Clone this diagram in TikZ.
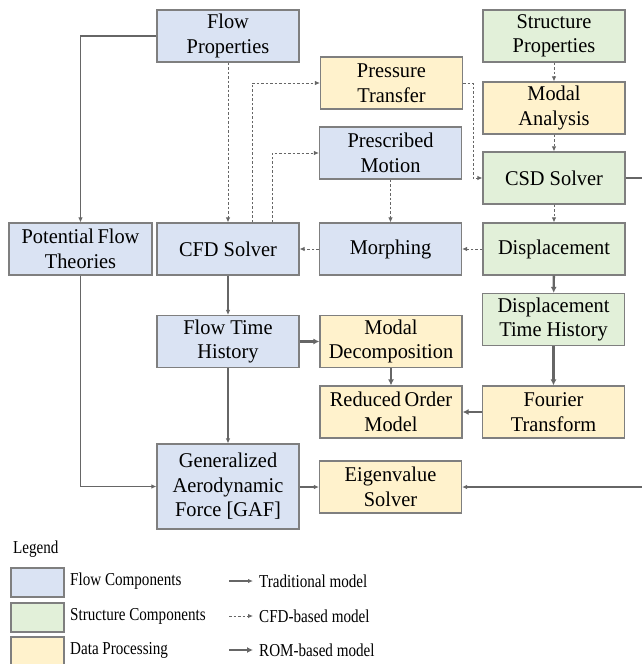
\documentclass[tikz,border=0pt]{standalone}
\usepackage{fontspec}
\setmainfont{Liberation Serif}
\newfontfamily\blockfont{Liberation Serif}[FakeStretch=0.97]
\newfontfamily\legfont{Liberation Serif}[FakeStretch=0.83]
\usepackage{xcolor}
\usetikzlibrary{arrows.meta, positioning, calc}

\definecolor{flowblue}{HTML}{DAE3F3}
\definecolor{structgreen}{HTML}{E2F0D9}
\definecolor{dataorange}{HTML}{FFF2CC}
\definecolor{boxgray}{HTML}{7F7F7F}
\definecolor{linegray}{HTML}{666666}

\begin{document}
\begin{tikzpicture}[x=1pt, y=-1pt,
        block/.style={rectangle, draw=boxgray, line width=1.2pt, minimum height=52pt, minimum width=142pt, inner sep=0pt, align=center, font=\blockfont\fontsize{21}{24.5}\selectfont, fill=#1},
        trad/.style={-{Latex[length=5pt, width=4.5pt]}, draw=linegray, line width=1.1pt},
        cfdarrow/.style={-{Latex[length=5pt, width=4.5pt]}, draw=linegray, line width=0.9pt, dash pattern=on 2.5pt off 2pt},
        romarrow/.style={-{Latex[length=6pt, width=6pt]}, draw=linegray, line width=2.4pt},
        legbox/.style={rectangle, draw=boxgray, line width=1.2pt, minimum height=29pt, minimum width=53pt, inner sep=0pt, fill=#1},
        legtext/.style={anchor=west, font=\legfont\fontsize{18.2}{20}\selectfont, inner sep=0pt}
    ]
        \useasboundingbox (0,0) rectangle (641,664);

        % Flow side
        \node[block=flowblue] (flowprop) at (228, 36) {Flow\\Properties};
        \node[block=flowblue, minimum width=143pt] (potential) at (80.5, 249) {Potential\,Flow\\Theories};
        \node[block=flowblue] (cfd) at (228, 249) {CFD Solver};
        \node[block=flowblue] (flowth) at (228, 341.5) {Flow Time\\History};
        \node[block=flowblue, minimum height=85pt] (gaf) at (228, 486.5) {Generalized\\Aerodynamic\\Force [GAF]};
        \node[block=flowblue] (prescribed) at (390.5, 153) {Prescribed\\Motion};
        \node[block=flowblue] (morph) at (390.5, 249) {Morphing};

        % Structure side
        \node[block=structgreen] (structprop) at (554, 36) {Structure\\Properties};
        \node[block=structgreen] (csd) at (554, 178) {CSD Solver};
        \node[block=structgreen] (disp) at (554, 249) {Displacement};
        \node[block=structgreen] (dth) at (553.5, 319.5) {Displacement\\Time History};

        % Data processing
        \node[block=dataorange] (pressure) at (391.5, 83) {Pressure\\Transfer};
        \node[block=dataorange] (modal) at (554, 108) {Modal\\Analysis};
        \node[block=dataorange] (modaldec) at (391, 341.5) {Modal\\Decomposition};
        \node[block=dataorange] (rom) at (391, 412) {Reduced\,Order\\Model};
        \node[block=dataorange] (fourier) at (553.5, 412) {Fourier\\Transform};
        \node[block=dataorange] (eigen) at (390.5, 487) {Eigenvalue\\Solver};

        % Traditional model
        \draw[trad] (flowprop.west) -| (potential.north);
        \draw[trad] (cfd) -- (flowth);
        \draw[trad] (flowth) -- (gaf);
        \draw[trad] (potential.south) |- (gaf.west);
        \draw[trad] (gaf.east |- eigen.west) -- (eigen.west);
        \draw[trad] (csd.east) -- ++(30, 0) |- (eigen.east);

        % CFD-based model
        \draw[cfdarrow] (flowprop) -- (cfd);
        \draw[cfdarrow] ([xshift=24pt]cfd.north) |- (pressure.west);
        \draw[cfdarrow] ([xshift=44pt]cfd.north) |- (prescribed.west);
        \draw[cfdarrow] (prescribed) -- (morph);
        \draw[cfdarrow] (morph) -- (cfd);
        \draw[cfdarrow] (disp) -- (morph);
        \draw[cfdarrow] (pressure.east) -- ++(10, 0) |- (csd.west);
        \draw[cfdarrow] (structprop) -- (modal);
        \draw[cfdarrow] (modal) -- (csd);
        \draw[cfdarrow] (csd) -- (disp);

        % ROM-based model
        \draw[romarrow] (disp) -- (dth);
        \draw[romarrow] (dth) -- (fourier);
        \draw[romarrow] (fourier) -- (rom);
        \draw[romarrow] (modaldec) -- (rom);
        \draw[romarrow] (flowth.east |- modaldec.west) -- (modaldec.west);

        % Legend
        \node[legtext] (legend) at (13, 549) {Legend};
        \node[legbox=flowblue] (lflow) at (37.5, 582.5) {};
        \node[legbox=structgreen] (lstruct) at (37.5, 617.5) {};
        \node[legbox=dataorange] (ldata) at (37.5, 651.5) {};
        \node[legtext] (lflowtxt) at (70, 581) {Flow Components};
        \node[legtext] (lstructtxt) at (70, 616) {Structure Components};
        \node[legtext] (ldatatxt) at (70, 650) {Data Processing};

        \coordinate (tA) at (229, 581);
        \coordinate (tB) at (253, 581);
        \coordinate (cA) at (229, 616);
        \coordinate (cB) at (253, 616);
        \coordinate (rA) at (229, 650);
        \coordinate (rB) at (253, 650);
        \draw[trad] (tA) -- (tB);
        \draw[cfdarrow] (cA) -- (cB);
        \draw[romarrow] (rA) -- (rB);
        \node[legtext] (ltrad) at (259, 581) {Traditional model};
        \node[legtext] (lcfd) at (259, 616) {CFD-based model};
        \node[legtext] (lrom) at (259, 650) {ROM-based model};
    \end{tikzpicture}
\end{document}
